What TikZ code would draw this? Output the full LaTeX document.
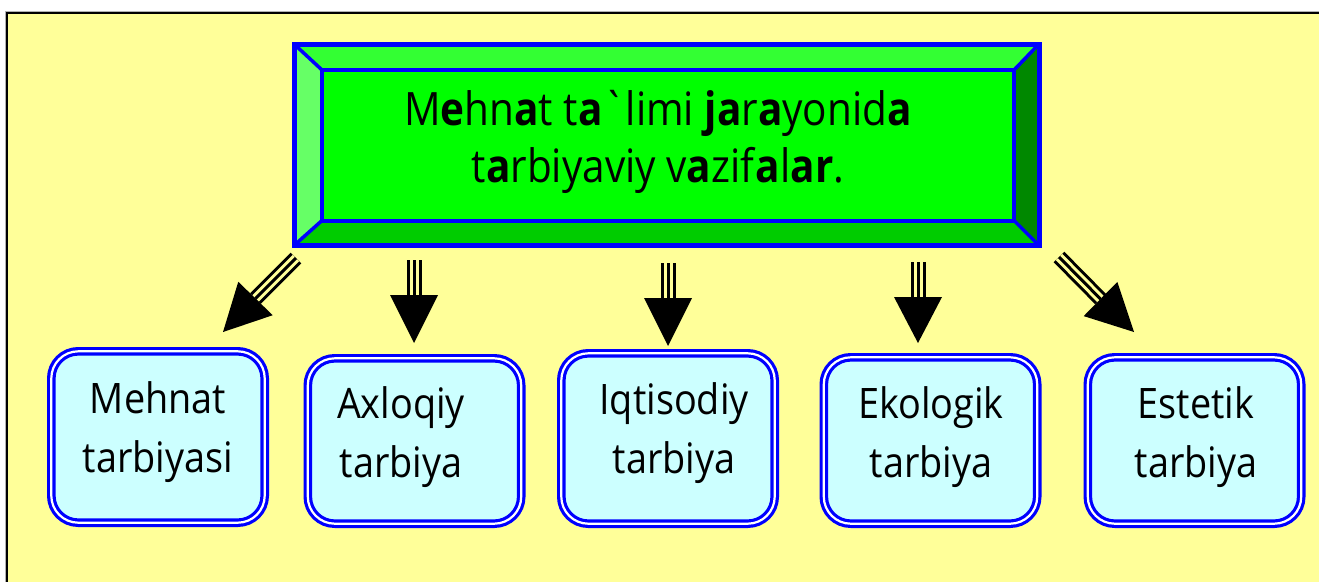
\documentclass[tikz,border=0pt]{standalone}
\usepackage{fontspec}
\newfontfamily\uzfont{Open Sans}
\usetikzlibrary{calc}
\definecolor{bgyellow}{HTML}{FFFF99}
\definecolor{facetop}{HTML}{33FF33}
\definecolor{faceleft}{HTML}{66FF66}
\definecolor{faceright}{HTML}{008800}
\definecolor{facebottom}{HTML}{00CC00}
\definecolor{facemid}{HTML}{00FF00}
\definecolor{boxfill}{HTML}{CCFFFF}
\definecolor{bevelblue}{HTML}{0000FF}
\tikzset{
  rbox/.style={rounded corners=27pt, draw=bevelblue, line width=3.2pt, double=white,
    double distance=2.2pt, fill=boxfill, minimum width=213.4pt,
    inner sep=0pt, outer sep=0pt},
  btext/.style={font=\uzfont\fontsize{42}{59}\selectfont, align=center, anchor=base, inner sep=0pt, xscale=0.9, transform shape},
  ttext/.style={font=\uzfont\fontsize{46}{57}\selectfont, align=center, anchor=base, inner sep=0pt, xscale=0.88, transform shape},
  shaftA/.style={line width=15pt, black},
  shaftB/.style={line width=9pt, bgyellow},
  shaftC/.style={line width=3pt, black},
  bluebevel/.style={draw=bevelblue, line width=4pt},
}
\newcommand{\blockarrow}[3]{%
  \draw[shaftA] (#1) -- (#2);
  \draw[shaftB] (#1) -- (#2);
  \draw[shaftC] (#1) -- (#2);
  \fill[black] (#3) -- ($(#2)!24pt!90:(#3)$) -- ($(#2)!24pt!-90:(#3)$) -- cycle;
}
\begin{document}
\begin{tikzpicture}[x=1pt,y=-1pt]
\useasboundingbox (0,0) rectangle (1319,581);
\clip (0,0) rectangle (1319,581);
\fill[white] (0,0) rectangle (1319,581);
\draw[gray!60, line width=1pt] (5.5,600) -- (5.5,11.5) -- (1330,11.5);
\draw[fill=bgyellow, draw=black, line width=2pt] (7,13) rectangle (1330,600);

% title box
\node[minimum width=745pt, minimum height=201.5pt, inner sep=0pt, outer sep=0pt] (frame) at (666.5,144.75) {};
\node[minimum width=692pt, minimum height=150.5pt, inner sep=0pt, outer sep=0pt] (inner) at (668,145.25) {};
\fill[facetop] (frame.north west) -- (frame.north east) -- (inner.north east) -- (inner.north west) -- cycle;
\fill[faceleft] (frame.north west) -- (inner.north west) -- (inner.south west) -- (frame.south west) -- cycle;
\fill[faceright] (frame.north east) -- (frame.south east) -- (inner.south east) -- (inner.north east) -- cycle;
\fill[facebottom] (frame.south west) -- (inner.south west) -- (inner.south east) -- (frame.south east) -- cycle;
\fill[facemid] (inner.north west) rectangle (inner.south east);
\draw[bluebevel, line width=3.5pt] (frame.north west) -- (inner.north west)
  (frame.north east) -- (inner.north east)
  (frame.south west) -- (inner.south west)
  (frame.south east) -- (inner.south east);
\draw[bluebevel] (inner.north west) rectangle (inner.south east);
\draw[bluebevel, line width=5pt] (frame.north west) rectangle (frame.south east);
\node[ttext] (title) at (658,182) {M\textbf{e}hn\textbf{a}t t\textbf{a}\symbol{96}limi \textbf{ja}r\textbf{a}yonid\textbf{a}\\t\textbf{a}rbiyaviy v\textbf{a}zif\textbf{a}l\textbf{ar}.};

% lower boxes
\node[rbox, minimum height=171.4pt] (b1) at (158,437) {};
\node[rbox, minimum height=165.4pt] (b2) at (414.5,441) {};
\node[rbox, minimum height=170.4pt] (b3) at (668,438.5) {};
\node[rbox, minimum height=166.4pt] (b4) at (930.5,440.5) {};
\node[rbox, minimum height=166.4pt] (b5) at (1194.5,440.5) {};
\node[btext] (t1) at (158,472) {Mehnat\\tarbiyasi};
\node[btext] (t2) at (401,477) {Axloqiy\\tarbiya};
\node[btext] (t3) at (674,473) {Iqtisodiy\\tarbiya};
\node[btext] (t4) at (931,477) {Ekologik\\tarbiya};
\node[btext] (t5) at (1196,477) {Estetik\\tarbiya};

% arrows
\coordinate (s1) at (296,258); \coordinate (m1) at (255.5,298.5); \coordinate (e1) at (223,332);
\coordinate (s2) at (414,260); \coordinate (m2) at (414,295); \coordinate (e2) at (414,343);
\coordinate (s3) at (668,263); \coordinate (m3) at (668,298); \coordinate (e3) at (668,346);
\coordinate (s4) at (918,262); \coordinate (m4) at (918,297); \coordinate (e4) at (918,343);
\coordinate (s5) at (1059,257); \coordinate (m5) at (1100.5,299); \coordinate (e5) at (1134,332);
\blockarrow{s1}{m1}{e1}
\blockarrow{s2}{m2}{e2}
\blockarrow{s3}{m3}{e3}
\blockarrow{s4}{m4}{e4}
\blockarrow{s5}{m5}{e5}
\end{tikzpicture}
\end{document}
